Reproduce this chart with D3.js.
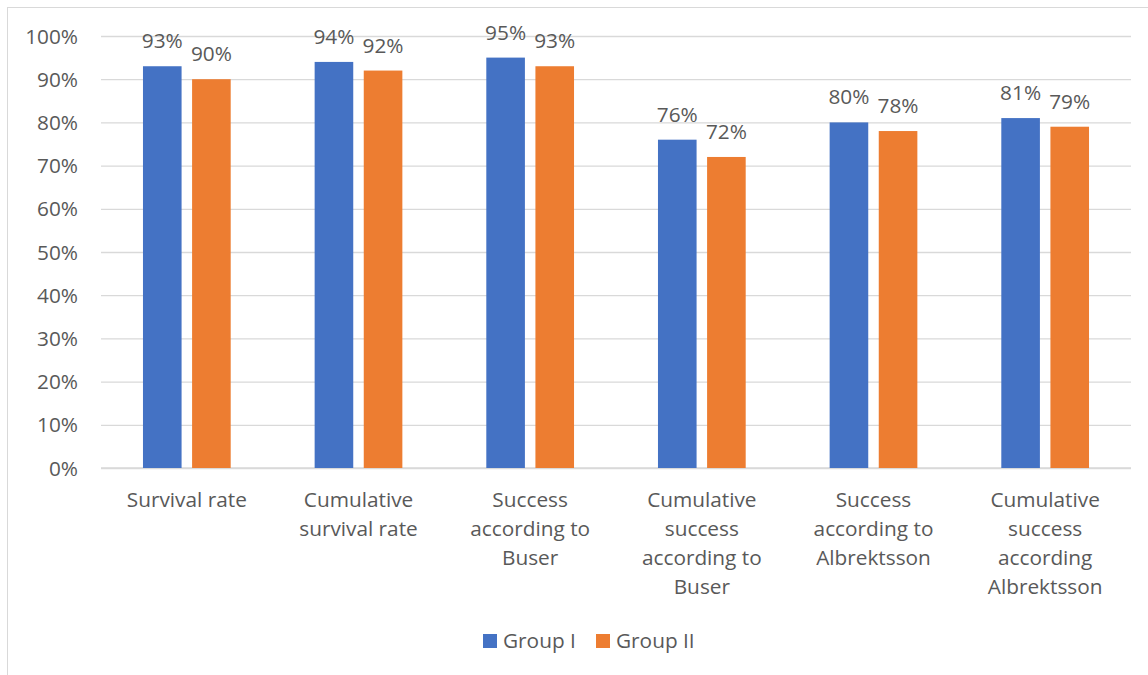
<!DOCTYPE html>
<html>
<head>
<meta charset="utf-8">
<script src="https://cdn.jsdelivr.net/npm/d3@7"></script>
<style>
  html, body { margin: 0; padding: 0; background: #fff; }
  svg { display: block; }
  text { font-family: "Open Sans", sans-serif; fill: #595959; }
</style>
</head>
<body>
<svg id="chart" width="1148" height="675"></svg>
<script>
const categories = [
  ["Survival rate"],
  ["Cumulative", "survival rate"],
  ["Success", "according to", "Buser"],
  ["Cumulative", "success", "according to", "Buser"],
  ["Success", "according to", "Albrektsson"],
  ["Cumulative", "success", "according", "Albrektsson"]
];
const seriesNames = ["Group I", "Group II"];
const group1 = [93, 94, 95, 76, 80, 81];
const group2 = [90, 92, 93, 72, 78, 79];
const yTicks = [0, 10, 20, 30, 40, 50, 60, 70, 80, 90, 100];
const colors = ["#4472C4", "#ED7D31"];

const svg = d3.select("#chart");
const margin = { left: 101, right: 17, top: 36, bottom: 207 };
const W = 1148, H = 675;
const FS = "20.8px";

// chart border
svg.append("rect")
  .attr("x", 7.5).attr("y", 7.5)
  .attr("width", 1200).attr("height", 800)
  .attr("fill", "none").attr("stroke", "#d9d9d9").attr("stroke-width", 1);

const x0 = d3.scaleBand()
  .domain(d3.range(categories.length))
  .range([margin.left, W - margin.right])
  .paddingInner(0.489).paddingOuter(0.2445);

const x1 = d3.scaleBand()
  .domain([0, 1])
  .range([0, x0.bandwidth()])
  .paddingInner(0.214).paddingOuter(0);

const y = d3.scaleLinear().domain([0, 100]).range([H - margin.bottom, margin.top]);

// gridlines
const yAxis = d3.axisLeft(y).tickValues(yTicks)
  .tickSize(-(W - margin.right - margin.left))
  .tickFormat(d => d + "%");
const gy = svg.append("g").attr("transform", `translate(${margin.left},0)`).call(yAxis);
gy.select(".domain").remove();
gy.selectAll(".tick line").attr("stroke", "#d9d9d9").attr("stroke-width", 1.3);
gy.selectAll(".tick text")
  .attr("x", -23).attr("dy", "0.34em")
  .style("font-size", FS).attr("fill", "#595959");

// baseline
svg.append("line")
  .attr("x1", margin.left).attr("x2", W - margin.right)
  .attr("y1", y(0)).attr("y2", y(0))
  .attr("stroke", "#d9d9d9").attr("stroke-width", 1.6);

const data = categories.map((c, i) => ({ i, vals: [group1[i], group2[i]] }));

const groups = svg.append("g").selectAll("g").data(data).join("g")
  .attr("transform", d => `translate(${x0(d.i)},0)`);

groups.selectAll("rect").data(d => d.vals.map((v, s) => ({ v, s }))).join("rect")
  .attr("x", d => x1(d.s))
  .attr("width", x1.bandwidth())
  .attr("y", d => y(d.v))
  .attr("height", d => y(0) - y(d.v))
  .attr("fill", d => colors[d.s]);

groups.selectAll("text.lbl").data(d => d.vals.map((v, s) => ({ v, s }))).join("text")
  .attr("class", "lbl")
  .attr("x", d => x1(d.s) + x1.bandwidth() / 2)
  .attr("y", d => y(d.v) - 18)
  .attr("text-anchor", "middle")
  .style("font-size", FS)
  .text(d => d.v + "%");

// category labels
const catG = svg.append("g");
categories.forEach((lines, i) => {
  const t = catG.append("text")
    .attr("x", x0(i) + x0.bandwidth() / 2)
    .attr("y", y(0) + 39)
    .attr("text-anchor", "middle")
    .style("font-size", FS);
  lines.forEach((ln, k) => {
    t.append("tspan")
      .attr("x", x0(i) + x0.bandwidth() / 2)
      .attr("dy", k === 0 ? 0 : 29)
      .text(ln);
  });
});

// legend
const legend = svg.append("g");
const legendX = [483, 596];
seriesNames.forEach((n, s) => {
  legend.append("rect")
    .attr("x", legendX[s]).attr("y", 634)
    .attr("width", 14).attr("height", 14)
    .attr("fill", colors[s]);
  legend.append("text")
    .attr("x", legendX[s] + 20).attr("y", 648)
    .style("font-size", FS)
    .text(n);
});
</script>
</body>
</html>
